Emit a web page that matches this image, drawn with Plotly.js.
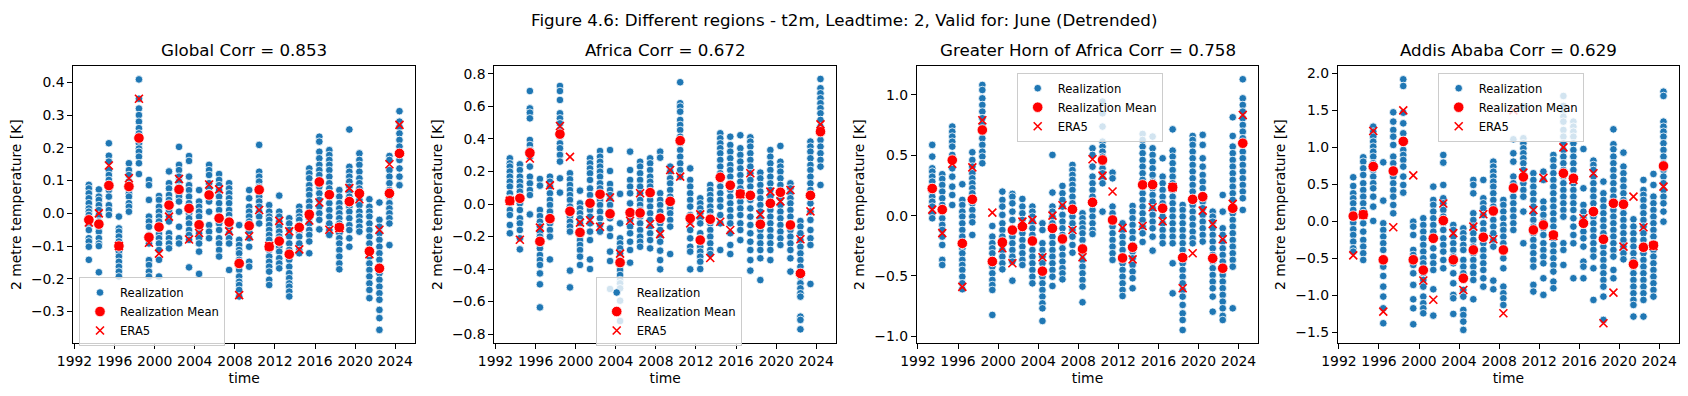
<!DOCTYPE html>
<html>
<head>
<meta charset="utf-8">
<script src="https://cdn.plot.ly/plotly-3.0.1.min.js"></script>
<style>html,body{margin:0;padding:0;background:#fff}#chart{width:1688px;height:396px}</style>
</head>
<body>
<div id="chart"></div>
<script>
const years = [1993,1994,1995,1996,1997,1998,1999,2000,2001,2002,2003,2004,2005,2006,2007,2008,2009,2010,2011,2012,2013,2014,2015,2016,2017,2018,2019,2020,2021,2022,2023,2024];
const suptitle = "Figure 4.6: Different regions - t2m, Leadtime: 2, Valid for: June (Detrended)";
const panelTitles = ["Global Corr = 0.853", "Africa Corr = 0.672", "Greater Horn of Africa Corr = 0.758", "Addis Ababa Corr = 0.629"];
const seriesNames = ["Realization", "Realization Mean", "ERA5"];
const xLabel = "time";
const yLabel = "2 metre temperature [K]";

// ---------- Global ----------
const globalRealization = [
[0.087,0.076,0.061,0.046,0.031,0.015,0.005,-0.005,-0.025,-0.036,-0.051,-0.076,-0.086,-0.102,-0.142],
[0.073,0.051,0.041,0.025,0.01,-0.005,-0.025,-0.041,-0.056,-0.076,-0.092,-0.1,-0.18],
[0.214,0.176,0.158,0.132,0.117,0.102,0.086,0.071,0.051,0.025,0.01,-0.005],
[-0.01,-0.046,-0.056,-0.071,-0.086,-0.102,-0.117,-0.132,-0.148,-0.163,-0.178,-0.193],
[0.153,0.132,0.117,0.097,0.081,0.061,0.051,0.031,0.02,0.005],
[0.409,0.35,0.32,0.3,0.28,0.26,0.244,0.229,0.214,0.198,0.188,0.173,0.153,0.12],
[0.102,0.086,0.041,-0.01,-0.025,-0.041,-0.066,-0.092,-0.143,-0.158,-0.178,-0.193],
[0.053,0.041,0.02,0.005,-0.01,-0.025,-0.041,-0.063,-0.076,-0.092,-0.112,-0.142,-0.193],
[0.128,0.092,0.076,0.056,0.041,0.025,0.01,-0.01,-0.025,-0.061,-0.076,-0.092,-0.107],
[0.203,0.148,0.132,0.112,0.097,0.081,0.061,0.051,0.036,0.005,-0.041,-0.076,-0.092],
[0.175,0.16,0.112,0.086,0.071,0.051,0.031,0.015,0.0,-0.015,-0.031,-0.051,-0.066,-0.081,-0.165],
[0.071,0.036,0.02,0.005,-0.01,-0.031,-0.046,-0.061,-0.076,-0.092,-0.117,-0.185],
[0.148,0.132,0.117,0.092,0.076,0.061,0.036,0.005,-0.036,-0.056,-0.076],
[0.12,0.102,0.086,0.071,0.051,0.031,0.01,-0.01,-0.031,-0.051,-0.076,-0.092,-0.112,-0.132],
[0.092,0.076,0.061,0.046,0.031,0.01,-0.005,-0.02,-0.041,-0.061,-0.076,-0.092,-0.173],
[-0.036,-0.081,-0.097,-0.112,-0.122,-0.142,-0.158,-0.173,-0.193,-0.209,-0.219,-0.234,-0.254],
[0.071,0.046,0.02,0.005,-0.01,-0.025,-0.041,-0.056,-0.076,-0.102,-0.148,-0.163],
[0.209,0.127,0.112,0.097,0.081,0.066,0.051,0.036,0.02,0.005,-0.01,-0.031],
[0.025,0.005,-0.01,-0.02,-0.036,-0.051,-0.066,-0.081,-0.097,-0.112,-0.132,-0.148,-0.163,-0.178,-0.203,-0.219],
[0.054,0.005,-0.01,-0.025,-0.041,-0.056,-0.071,-0.086,-0.102,-0.117,-0.137,-0.153,-0.168],
[-0.015,-0.031,-0.051,-0.071,-0.092,-0.112,-0.142,-0.163,-0.183,-0.198,-0.214,-0.224,-0.239,-0.254],
[0.02,0.005,-0.01,-0.02,-0.036,-0.056,-0.071,-0.092,-0.112,-0.122],
[0.137,0.122,0.107,0.086,0.071,0.056,0.036,0.02,0.0,-0.015,-0.031,-0.051,-0.066,-0.086,-0.122],
[0.234,0.219,0.188,0.168,0.148,0.132,0.117,0.097,0.081,0.061,0.041,0.02,0.0,-0.02,-0.049],
[0.193,0.178,0.163,0.148,0.132,0.112,0.092,0.076,0.051,0.031,0.01,-0.01,-0.031,-0.051,-0.066],
[0.071,0.051,0.031,0.015,0.0,-0.015,-0.031,-0.046,-0.061,-0.076,-0.092,-0.112,-0.132,-0.153,-0.171],
[0.256,0.142,0.127,0.112,0.097,0.081,0.066,0.051,0.036,0.02,0.005,-0.015,-0.036,-0.051,-0.076,-0.102],
[0.183,0.163,0.148,0.127,0.107,0.092,0.076,0.056,0.041,0.025,0.005,-0.01,-0.025,-0.041,-0.056],
[0.043,0.02,0.005,-0.01,-0.031,-0.051,-0.071,-0.092,-0.112,-0.132,-0.153,-0.173,-0.193,-0.214,-0.234,-0.259],
[0.033,-0.02,-0.041,-0.061,-0.081,-0.102,-0.122,-0.142,-0.163,-0.183,-0.203,-0.224,-0.244,-0.264,-0.295,-0.32,-0.356],
[0.175,0.163,0.132,0.112,0.092,0.071,0.051,0.031,0.015,0.0,-0.015,-0.031,-0.097],
[0.312,0.28,0.264,0.244,0.224,0.204,0.183,0.163,0.137,0.112,0.086]
];
const globalMean = [-0.02,-0.033,0.085,-0.1,0.082,0.23,-0.073,-0.042,0.025,0.073,0.015,-0.035,0.056,-0.015,-0.027,-0.153,-0.038,0.072,-0.102,-0.085,-0.125,-0.043,-0.003,0.096,0.057,-0.043,0.036,0.061,-0.116,-0.168,0.061,0.183];
const globalEra5 = [-0.028,0.0,0.146,-0.1,0.107,0.35,-0.09,-0.123,-0.01,0.105,-0.08,-0.06,0.088,0.073,-0.055,-0.25,-0.07,0.01,-0.1,-0.023,-0.055,-0.11,-0.022,0.033,-0.05,-0.045,0.077,0.043,-0.125,-0.05,0.15,0.27];

// ---------- Africa ----------
const africaRealization = [
[0.281,0.25,0.23,0.199,0.168,0.137,0.107,0.066,0.035,0.004,-0.037,-0.068,-0.129,-0.18],
[0.244,0.209,0.168,0.137,0.107,0.076,0.045,0.004,-0.037,-0.088,-0.119,-0.16,-0.211,-0.279],
[0.695,0.588,0.562,0.527,0.394,0.363,0.332,0.291,0.23,0.168,0.127,0.086,0.055,-0.064],
[0.154,0.113,-0.037,-0.074,-0.109,-0.139,-0.17,-0.201,-0.242,-0.273,-0.314,-0.345,-0.375,-0.427,-0.494,-0.636],
[0.168,0.137,0.107,0.066,0.025,-0.006,-0.047,-0.088,-0.119,-0.16,-0.201,-0.341],
[0.726,0.695,0.64,0.558,0.527,0.496,0.455,0.414,0.373,0.343,0.302,0.261,0.158,0.07],
[0.189,0.152,0.117,0.086,0.055,0.025,-0.016,-0.047,-0.078,-0.109,-0.139,-0.17,-0.41,-0.513],
[0.082,0.004,-0.027,-0.057,-0.088,-0.119,-0.16,-0.191,-0.222,-0.252,-0.283,-0.324,-0.375],
[0.281,0.25,0.219,0.189,0.148,0.096,0.055,0.004,-0.037,-0.078,-0.119,-0.17,-0.222,-0.341,-0.4],
[0.326,0.291,0.26,0.23,0.199,0.168,0.127,0.096,0.055,0.025,-0.006,-0.047,-0.088,-0.129,-0.17],
[0.332,0.203,0.123,0.086,0.055,0.025,-0.006,-0.047,-0.088,-0.15,-0.197,-0.293,-0.351,-0.523],
[0.062,-0.119,-0.211,-0.242,-0.273,-0.304,-0.345,-0.375,-0.406,-0.437,-0.468,-0.488,-0.519,-0.595,-0.72],
[0.322,0.209,0.148,0.107,0.066,0.004,-0.047,-0.099,-0.139,-0.18,-0.232,-0.283,-0.361],
[0.26,0.23,0.189,0.148,0.107,0.066,0.025,-0.006,-0.037,-0.078,-0.119,-0.16,-0.201,-0.232,-0.263],
[0.281,0.25,0.209,0.168,0.137,0.107,0.066,0.025,-0.016,-0.057,-0.098,-0.139,-0.18,-0.222,-0.273],
[0.322,0.285,0.066,0.025,-0.006,-0.047,-0.078,-0.119,-0.16,-0.201,-0.232,-0.287,-0.345,-0.402],
[0.23,0.199,0.158,0.127,0.086,0.045,0.004,-0.027,-0.057,-0.098,-0.139,-0.308],
[0.749,0.62,0.599,0.568,0.517,0.486,0.455,0.414,0.373,0.332,0.291,0.25,0.209,0.168],
[0.219,0.148,0.107,0.066,0.025,-0.016,-0.068,-0.109,-0.16,-0.211,-0.263,-0.293,-0.402],
[0.035,0.004,-0.027,-0.057,-0.088,-0.119,-0.18,-0.211,-0.263,-0.293,-0.324,-0.355,-0.4],
[0.117,0.086,0.055,0.025,-0.016,-0.047,-0.078,-0.119,-0.16,-0.201,-0.242,-0.283,-0.308],
[0.435,0.404,0.373,0.343,0.312,0.271,0.23,0.189,0.148,0.107,0.066,0.025,-0.016,-0.068,-0.119,-0.283],
[0.414,0.363,0.322,0.281,0.24,0.209,0.168,0.127,0.086,0.045,0.004,-0.037,-0.078,-0.119,-0.18,-0.252,-0.308],
[0.423,0.343,0.302,0.261,0.219,0.178,0.137,0.096,0.055,0.014,-0.027,-0.068,-0.119,-0.16,-0.222],
[0.41,0.384,0.353,0.312,0.271,0.23,0.189,0.148,0.107,0.066,0.025,-0.027,-0.078,-0.129,-0.18,-0.232,-0.283,-0.345,-0.41],
[0.193,0.158,0.117,0.076,0.035,-0.006,-0.047,-0.088,-0.129,-0.16,-0.201,-0.242,-0.283,-0.334,-0.468],
[0.332,0.291,0.25,0.209,0.168,0.127,0.086,0.045,0.004,-0.037,-0.078,-0.119,-0.16,-0.201,-0.242,-0.283,-0.345],
[0.357,0.26,0.23,0.199,0.158,0.117,0.076,0.035,-0.006,-0.047,-0.088,-0.129,-0.17,-0.211,-0.252],
[0.127,0.096,0.066,0.035,0.004,-0.037,-0.078,-0.119,-0.16,-0.201,-0.242,-0.283,-0.334,-0.416],
[-0.105,-0.139,-0.18,-0.222,-0.263,-0.304,-0.345,-0.386,-0.447,-0.488,-0.519,-0.549,-0.57,-0.693,-0.713,-0.771],
[0.384,0.353,0.322,0.281,0.24,0.209,0.168,0.127,0.086,0.045,0.004,-0.047,-0.098,-0.16,-0.211,-0.252,-0.492],
[0.769,0.712,0.681,0.65,0.62,0.589,0.558,0.517,0.476,0.435,0.394,0.353,0.312,0.271,0.23,0.117]
];
const africaMean = [0.02,0.035,0.315,-0.23,-0.09,0.43,-0.045,-0.175,0.005,0.06,-0.06,-0.36,-0.053,-0.055,0.07,-0.088,0.016,0.39,-0.088,-0.222,-0.094,0.164,0.115,0.062,0.053,-0.125,0.004,0.072,-0.129,-0.427,0.053,0.445];
const africaEra5 = [0.02,-0.22,0.28,-0.145,0.115,0.48,0.29,-0.115,-0.1,-0.14,0.04,-0.305,-0.103,0.066,-0.123,-0.185,0.209,0.168,-0.119,-0.064,-0.332,-0.109,-0.16,0.06,0.189,-0.064,0.076,0.016,0.086,-0.217,-0.045,0.49];

// ---------- Greater Horn of Africa ----------
const ghaRealization = [
[0.586,0.489,0.392,0.365,0.323,0.282,0.235,0.199,0.157,0.116,0.075,0.019,-0.022],
[0.343,0.304,0.254,0.199,0.144,0.088,0.033,-0.022,-0.077,-0.119,-0.174,-0.243,-0.367,-0.409],
[0.738,0.696,0.655,0.613,0.572,0.503,0.448,0.392,0.323,0.24,0.171,0.088],
[0.26,0.13,0.088,0.033,-0.008,-0.064,-0.119,-0.174,-0.229,-0.271,-0.312,-0.367,-0.409,-0.45,-0.506,-0.561,-0.61],
[0.525,0.461,0.406,0.351,0.309,0.268,0.227,0.185,0.144,0.102,0.047,-0.008,-0.055,-0.16],
[1.083,1.041,0.972,0.917,0.862,0.807,0.751,0.696,0.641,0.586,0.53,0.489,0.434],
[-0.086,-0.174,-0.229,-0.271,-0.312,-0.367,-0.423,-0.478,-0.533,-0.575,-0.616,-0.823],
[0.199,0.13,0.075,0.006,-0.064,-0.119,-0.174,-0.229,-0.285,-0.34,-0.395,-0.445],
[0.18,0.157,0.102,0.033,-0.036,-0.105,-0.174,-0.229,-0.285,-0.34,-0.381,-0.539],
[0.138,0.075,0.019,-0.036,-0.091,-0.146,-0.202,-0.257,-0.312,-0.367,-0.409],
[0.075,0.033,-0.008,-0.05,-0.105,-0.16,-0.215,-0.285,-0.34,-0.395,-0.45,-0.506,-0.561],
[-0.064,-0.119,-0.229,-0.285,-0.34,-0.395,-0.45,-0.506,-0.561,-0.616,-0.671,-0.727,-0.768,-0.873],
[0.503,0.191,0.075,0.033,-0.008,-0.064,-0.119,-0.174,-0.229,-0.285,-0.34,-0.395,-0.45,-0.506,-0.583],
[0.246,0.185,0.13,0.075,0.006,-0.05,-0.105,-0.16,-0.215,-0.271,-0.326,-0.381,-0.436,-0.478,-0.528],
[0.42,0.378,0.337,0.296,0.254,0.213,0.157,0.102,0.047,-0.008,-0.064,-0.119,-0.174,-0.243,-0.307],
[0.019,-0.022,-0.064,-0.105,-0.146,-0.202,-0.257,-0.312,-0.367,-0.423,-0.478,-0.533,-0.588,-0.718],
[0.558,0.503,0.406,0.323,0.268,0.213,0.157,0.102,0.047,-0.008,-0.064,-0.119,-0.152],
[0.945,0.848,0.738,0.613,0.572,0.53,0.489,0.434,0.392,0.351,0.309,0.268,0.033],
[0.356,0.309,0.075,0.019,-0.036,-0.091,-0.146,-0.202,-0.257,-0.312,-0.367],
[-0.064,-0.119,-0.174,-0.229,-0.285,-0.34,-0.395,-0.45,-0.506,-0.561,-0.616,-0.666],
[0.08,0.033,-0.022,-0.077,-0.133,-0.188,-0.243,-0.298,-0.354,-0.409,-0.464,-0.519,-0.602],
[0.677,0.627,0.572,0.517,0.461,0.406,0.351,0.296,0.24,0.185,0.13,0.075,0.019,-0.036,-0.091,-0.146,-0.218],
[0.655,0.558,0.503,0.448,0.392,0.337,0.282,0.227,0.171,0.116,0.061,0.006,-0.05,-0.105,-0.174,-0.29],
[0.475,0.323,0.268,0.213,0.157,0.102,0.047,-0.008,-0.064,-0.119,-0.174,-0.229],
[0.715,0.539,0.489,0.434,0.378,0.323,0.268,0.213,0.157,0.102,0.047,-0.008,-0.064,-0.119,-0.174,-0.229,-0.395,-0.644],
[0.088,0.047,-0.008,-0.064,-0.119,-0.174,-0.229,-0.285,-0.34,-0.395,-0.45,-0.506,-0.561,-0.616,-0.671,-0.74,-0.81,-0.865,-0.948],
[0.66,0.627,0.586,0.53,0.475,0.42,0.365,0.309,0.254,0.199,0.144,0.088,0.033,-0.022,-0.077,-0.133,-0.188,-0.229],
[0.669,0.586,0.475,0.406,0.337,0.282,0.227,0.171,0.116,0.061,0.006,-0.05,-0.105,-0.16,-0.215],
[0.033,-0.008,-0.05,-0.105,-0.16,-0.215,-0.271,-0.326,-0.381,-0.436,-0.492,-0.547,-0.602,-0.671,-0.796],
[0.171,0.033,-0.105,-0.16,-0.215,-0.271,-0.326,-0.381,-0.436,-0.492,-0.547,-0.602,-0.657,-0.713,-0.768,-0.831,-0.865],
[0.815,0.66,0.572,0.517,0.461,0.406,0.351,0.296,0.24,0.185,0.13,0.075,0.019,-0.036,-0.091,-0.146,-0.202,-0.257,-0.312,-0.367,-0.423,-0.768],
[1.13,0.972,0.917,0.862,0.807,0.751,0.696,0.641,0.586,0.53,0.475,0.42,0.365,0.309,0.254,0.199,0.144,0.047]
];
const ghaMean = [0.225,0.05,0.46,-0.23,0.135,0.71,-0.38,-0.22,-0.12,-0.09,-0.21,-0.46,-0.105,-0.193,0.052,-0.276,0.11,0.461,-0.036,-0.351,-0.262,0.255,0.257,0.061,0.235,-0.348,0.135,0.157,-0.354,-0.436,0.061,0.6];
const ghaEra5 = [0.05,-0.145,0.43,-0.59,0.4,0.79,0.025,-0.27,-0.395,-0.05,-0.035,-0.345,0.0,0.086,-0.119,-0.345,0.467,0.331,0.2,-0.102,-0.362,-0.086,0.069,-0.047,0.235,-0.602,-0.312,0.041,-0.069,-0.196,0.097,0.834];

// ---------- Addis Ababa ----------
const addisRealization = [
[0.595,0.477,0.378,0.311,0.243,0.153,0.063,-0.018,-0.108,-0.185,-0.275,-0.365,-0.41],
[0.865,0.806,0.716,0.626,0.514,0.423,0.333,0.243,0.153,0.063,-0.027,-0.14,-0.252,-0.342,-0.432,-0.523],
[1.279,1.212,1.144,1.077,1.009,0.941,0.874,0.784,0.694,0.604,0.514,0.446,0.333,0.198,0.005],
[0.797,0.279,-0.027,-0.117,-0.207,-0.297,-0.387,-0.523,-0.613,-0.739,-0.883,-1.018,-1.176,-1.378],
[1.473,1.347,1.234,1.144,1.032,0.874,0.784,0.694,0.604,0.514,0.423,0.333,0.221,0.108],
[1.919,1.829,1.468,1.324,1.189,1.054,0.964,0.896,0.829,0.739,0.604,0.491,0.387],
[-0.005,-0.072,-0.185,-0.387,-0.455,-0.523,-0.59,-0.703,-0.86,-1.054,-1.176,-1.392],
[0.041,-0.05,-0.14,-0.23,-0.32,-0.41,-0.5,-0.568,-0.703,-0.793,-0.883,-1.018,-1.108,-1.176,-1.243],
[0.468,0.288,0.221,0.131,0.041,-0.05,-0.14,-0.252,-0.365,-0.477,-0.568,-0.658,-0.919,-1.275],
[0.896,0.793,0.491,0.311,0.243,0.153,0.063,-0.027,-0.117,-0.23,-0.32,-0.41,-0.523,-0.635],
[-0.05,-0.117,-0.207,-0.297,-0.387,-0.477,-0.568,-0.703,-0.838,-0.995,-1.04,-1.252],
[-0.095,-0.162,-0.23,-0.32,-0.387,-0.523,-0.613,-0.703,-0.793,-0.928,-1.018,-1.198,-1.266,-1.356,-1.468],
[0.559,0.491,0.378,0.108,0.018,-0.072,-0.162,-0.252,-0.342,-0.432,-0.523,-0.613,-0.703,-0.793,-1.054],
[0.559,0.311,0.243,0.176,0.086,-0.027,-0.117,-0.207,-0.297,-0.387,-0.477,-0.568,-0.658,-0.77,-0.883],
[0.806,0.739,0.671,0.604,0.536,0.468,0.378,0.288,0.198,0.108,0.018,-0.072,-0.162,-0.252,-0.342,-0.802,-0.919],
[0.288,0.221,0.131,0.041,-0.05,-0.117,-0.207,-0.297,-0.387,-0.5,-0.635,-0.883,-0.973,-1.04,-1.131],
[1.108,0.919,0.806,0.604,0.514,0.423,0.333,0.243,0.153,0.063,-0.027,-0.117],
[1.55,1.122,1.054,0.986,0.919,0.851,0.784,0.694,0.604,0.514,0.423,0.333,0.131,-0.297],
[0.649,0.559,0.468,0.378,0.288,0.198,0.108,0.018,-0.072,-0.162,-0.252,-0.342,-0.432,-0.523,-0.613,-0.86,-0.95],
[0.671,0.559,0.266,0.176,0.086,-0.005,-0.095,-0.185,-0.297,-0.387,-0.477,-0.568,-0.77,-0.995],
[0.896,0.829,0.739,0.649,0.559,0.468,0.378,0.288,0.198,0.108,0.018,-0.072,-0.162,-0.23,-0.32,-0.41,-0.5,-0.59,-0.68,-0.815,-0.905],
[1.694,1.559,1.482,1.414,1.347,1.234,1.144,1.054,0.964,0.874,0.784,0.694,0.604,0.514,0.423,0.333,0.243,0.153,0.063,-0.297,-0.387,-0.59],
[1.347,1.279,1.212,1.144,1.054,0.964,0.874,0.784,0.694,0.604,0.514,0.423,0.333,0.243,0.153,0.041,-0.072,-0.185,-0.297,-0.77],
[0.977,0.446,0.221,0.131,0.041,-0.05,-0.14,-0.23,-0.342,-0.545,-0.613,-0.77],
[0.82,0.761,0.694,0.604,0.514,0.423,0.333,0.243,0.153,0.063,-0.027,-0.117,-0.207,-0.297,-0.387,-0.477,-0.635,-1.063],
[0.536,0.378,0.288,0.198,0.108,0.018,-0.072,-0.162,-0.252,-0.342,-0.432,-0.523,-0.613,-0.703,-0.793,-0.883,-1.018,-1.333],
[1.243,1.041,0.973,0.874,0.784,0.694,0.604,0.514,0.423,0.333,0.243,0.153,0.063,-0.027,-0.117,-0.207,-0.297,-0.387,-0.477,-0.658,-0.77],
[0.928,0.739,0.649,0.559,0.468,0.378,0.288,0.198,0.108,0.018,-0.072,-0.162,-0.252,-0.342,-0.432,-0.514],
[0.027,-0.072,-0.162,-0.252,-0.342,-0.432,-0.523,-0.613,-0.703,-0.793,-0.883,-0.973,-1.063,-1.131,-1.288],
[0.559,0.423,0.356,0.288,0.198,0.108,0.018,-0.072,-0.162,-0.252,-0.342,-0.432,-0.523,-0.613,-0.703,-0.793,-0.883,-0.973,-1.063,-1.288],
[0.64,0.491,0.333,0.243,0.153,0.063,-0.027,-0.117,-0.207,-0.297,-0.387,-0.477,-0.568,-0.658,-0.748,-0.838,-0.928,-1.018],
[1.752,1.694,1.347,1.279,1.212,1.144,1.054,0.964,0.874,0.784,0.694,0.604,0.514,0.423,0.333,0.243,0.131,-0.005]
];
const addisMean = [0.07,0.09,0.74,-0.52,0.68,1.08,-0.52,-0.66,-0.23,0.01,-0.52,-0.77,-0.387,-0.216,0.14,-0.387,0.45,0.6,-0.117,-0.05,-0.185,0.649,0.581,-0.027,0.131,-0.243,0.243,0.23,-0.58,-0.351,-0.324,0.748];
const addisEra5 = [-0.46,0.09,1.22,-1.22,-0.08,1.5,0.62,-0.8,-1.06,0.24,-0.16,-0.928,-0.072,0.095,-0.243,-1.243,1.5,0.658,0.153,0.586,-0.198,1.0,0.56,0.041,0.649,-1.378,-0.964,-0.342,0.333,-0.081,-0.333,0.468];

// ---------- layout helpers ----------
const W = 1688, H = 396;
const FONT = "DejaVu Sans";
const dates = years.map(y => y + "-06-06");
const panels = [
  {title: panelTitles[0], real: globalRealization, mean: globalMean, era5: globalEra5, px: [73.3, 415], yr: [-0.397, 0.45], dtick: 0.1, leg: [79, 277]},
  {title: panelTitles[1], real: africaRealization, mean: africaMean, era5: africaEra5, px: [494.3, 836], yr: [-0.857, 0.849], dtick: 0.2, leg: [595.7, 277]},
  {title: panelTitles[2], real: ghaRealization, mean: ghaMean, era5: ghaEra5, px: [916.7, 1258.3], yr: [-1.058, 1.24], dtick: 0.5, leg: [1016.7, 72.7]},
  {title: panelTitles[3], real: addisRealization, mean: addisMean, era5: addisEra5, px: [1337.7, 1679], yr: [-1.649, 2.099], dtick: 0.5, leg: [1437.7, 72.7]}
];
const plotTop = 66, plotBot = 343.3;
const yDom = [(H - plotBot) / H, (H - plotTop) / H];

const data = [];
const layout = {
  width: W, height: H,
  margin: {l: 0, r: 0, t: 0, b: 0},
  paper_bgcolor: "#fff", plot_bgcolor: "#fff",
  font: {family: FONT, size: 13.9, color: "#000"},
  showlegend: true,
  annotations: [{
    text: suptitle, xref: "paper", yref: "paper", x: 0.5, y: 1 - 7.5 / H,
    xanchor: "center", yanchor: "top", showarrow: false,
    font: {family: FONT, size: 16.7, color: "#000"}
  }]
};

panels.forEach((p, i) => {
  const n = i === 0 ? "" : String(i + 1);
  const xa = "x" + n, ya = "y" + n;
  const legName = "legend" + n;
  const rx = [], ry = [];
  p.real.forEach((vals, k) => vals.forEach(v => { rx.push(dates[k]); ry.push(v); }));
  data.push({
    type: "scatter", mode: "markers", name: seriesNames[0], x: rx, y: ry, xaxis: xa, yaxis: ya, legend: legName,
    marker: {color: "#1f77b4", size: 7.6, line: {color: "#fff", width: 0.8}}, cliponaxis: true
  });
  data.push({
    type: "scatter", mode: "markers", name: seriesNames[1], x: dates, y: p.mean, xaxis: xa, yaxis: ya, legend: legName,
    marker: {color: "#ff0000", size: 10.5, line: {color: "#fff", width: 0.8}}
  });
  data.push({
    type: "scatter", mode: "markers", name: seriesNames[2], x: dates, y: p.era5, xaxis: xa, yaxis: ya, legend: legName,
    marker: {color: "#ff0000", size: 8, symbol: "x-thin-open", line: {color: "#ff0000", width: 1.6}}
  });
  const axCommon = {
    showline: true, mirror: true, linecolor: "#000", linewidth: 1,
    ticks: "outside", ticklen: 4.9, tickwidth: 1, tickcolor: "#000",
    showgrid: false, zeroline: false,
    tickfont: {family: FONT, size: 13.9, color: "#000"}
  };
  layout["xaxis" + n] = Object.assign({}, axCommon, {
    domain: [p.px[0] / W, p.px[1] / W], anchor: ya, type: "date",
    range: ["1991-11-17", "2025-12-24"], tick0: "1992-01-01", dtick: "M48", tickformat: "%Y",
    title: {text: xLabel, font: {family: FONT, size: 13.9, color: "#000"}, standoff: 5}
  });
  layout["yaxis" + n] = Object.assign({}, axCommon, {
    domain: yDom, anchor: xa, range: p.yr, dtick: p.dtick, tick0: 0, tickformat: ".1f",
    title: {text: yLabel, font: {family: FONT, size: 13.9, color: "#000"}, standoff: 6}
  });
  layout[legName] = {
    x: p.leg[0] / W, y: 1 - p.leg[1] / H, xanchor: "left", yanchor: "top",
    xref: "paper", yref: "paper",
    bgcolor: "rgba(255,255,255,0.8)", bordercolor: "#cccccc", borderwidth: 1,
    font: {family: FONT, size: 11.6, color: "#000"}, tracegroupgap: 0
  };
  layout.annotations.push({
    text: p.title, xref: "paper", yref: "paper", x: (p.px[0] + p.px[1]) / 2 / W, y: 1 - 62 / H,
    xanchor: "center", yanchor: "bottom", showarrow: false,
    font: {family: FONT, size: 16.7, color: "#000"}
  });
});

Plotly.newPlot("chart", data, layout, {displayModeBar: false, responsive: false});
</script>
</body>
</html>
